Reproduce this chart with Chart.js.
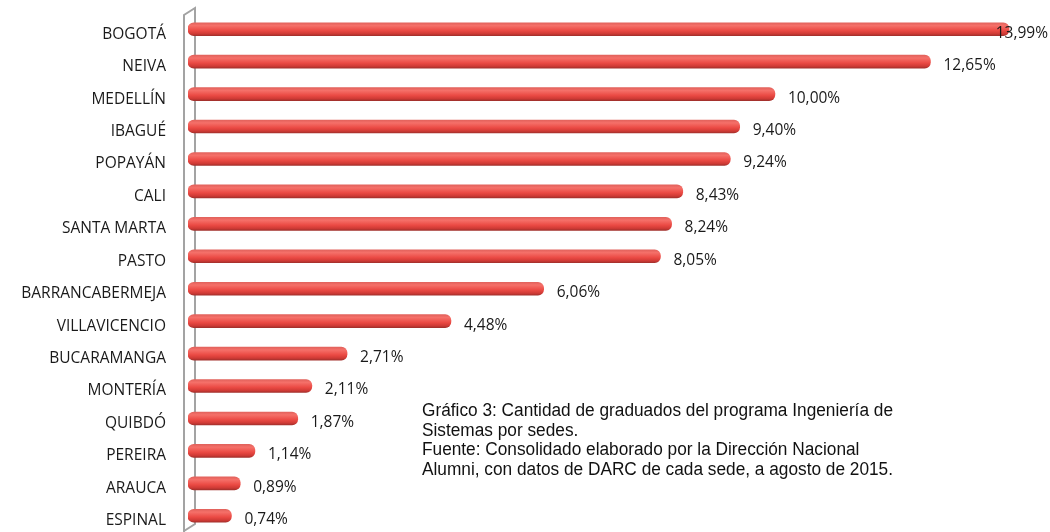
<!DOCTYPE html>
<html>
<head>
<meta charset="utf-8">
<script src="https://cdn.jsdelivr.net/npm/chart.js@4/dist/chart.umd.min.js"></script>
<style>
html,body{margin:0;padding:0;background:#fff;}
#wrap{width:1050px;height:532px;position:relative;}
</style>
</head>
<body>
<div id="wrap"><canvas id="c"></canvas></div>
<script>
const categories = ['BOGOTÁ','NEIVA','MEDELLÍN','IBAGUÉ','POPAYÁN','CALI','SANTA MARTA','PASTO','BARRANCABERMEJA','VILLAVICENCIO','BUCARAMANGA','MONTERÍA','QUIBDÓ','PEREIRA','ARAUCA','ESPINAL'];
const values = [13.99,12.65,10.00,9.40,9.24,8.43,8.24,8.05,6.06,4.48,2.71,2.11,1.87,1.14,0.89,0.74];
const captionLines = [
  'Gráfico 3: Cantidad de graduados del programa Ingeniería de',
  'Sistemas por sedes.',
  'Fuente: Consolidado elaborado por la Dirección Nacional',
  'Alumni, con datos de DARC de cada sede, a agosto de 2015.'
];

const LABEL_FONT = '15.5px "Open Sans"';

function fmt(v){ return v.toFixed(2).replace('.', ',') + '%'; }

const wallPlugin = {
  id: 'wall',
  beforeDatasetsDraw(chart){
    const {ctx, chartArea} = chart;
    const l = chartArea.left - 4, r = chartArea.left + 7;
    ctx.save();
    ctx.strokeStyle = '#a3a3a3';
    ctx.lineWidth = 2;
    ctx.beginPath();
    ctx.moveTo(l, chartArea.bottom + 2);
    ctx.lineTo(l, chartArea.top + 2);
    ctx.lineTo(r, chartArea.top - 5);
    ctx.lineTo(r, chartArea.bottom - 8);
    ctx.lineTo(l, chartArea.bottom - 1);
    ctx.stroke();
    ctx.restore();
  }
};

const labelPlugin = {
  id: 'vlabels',
  afterDatasetsDraw(chart){
    const {ctx} = chart;
    const meta = chart.getDatasetMeta(0);
    ctx.save();
    ctx.font = LABEL_FONT;
    ctx.fillStyle = '#1a1a1a';
    ctx.textBaseline = 'middle';
    meta.data.forEach((bar, i) => {
      const t = fmt(values[i]);
      const w = ctx.measureText(t).width;
      let x = bar.x + 13;
      if (x + w > chart.width - 2) x = chart.width - 2 - w;
      ctx.fillText(t, x, bar.y + 4);
    });
    ctx.restore();
  }
};

const captionPlugin = {
  id: 'caption',
  afterDraw(chart){
    const {ctx} = chart;
    ctx.save();
    ctx.font = '18px "Liberation Sans", Arial, sans-serif';
    ctx.fillStyle = '#111';
    ctx.textBaseline = 'alphabetic';
    const f = 471 / ctx.measureText(captionLines[0]).width;
    captionLines.forEach((t, i) => {
      const w = ctx.measureText(t).width * f;
      ctx.fillText(t, 422, 416 + i * 19.7, w);
    });
    ctx.restore();
  }
};

function barGradient(context){
  const chart = context.chart;
  const ys = chart.scales && chart.scales.y;
  if (!ys || context.dataIndex === undefined) return '#ea4943';
  const cy = ys.getPixelForValue(context.dataIndex);
  if (!isFinite(cy)) return '#ea4943';
  const g = chart.ctx.createLinearGradient(0, cy - 6.5, 0, cy + 6.5);
  g.addColorStop(0, '#e2625c');
  g.addColorStop(0.22, '#f57069');
  g.addColorStop(0.6, '#eb4a44');
  g.addColorStop(0.85, '#cf3a35');
  g.addColorStop(1, '#a3302c');
  return g;
}

new Chart(document.getElementById('c'), {
  type: 'bar',
  data: {
    labels: categories,
    datasets: [{
      data: values,
      backgroundColor: barGradient,
      borderWidth: 0,
      borderRadius: 6,
      borderSkipped: false,
      barThickness: 13
    }]
  },
  options: {
    indexAxis: 'y',
    responsive: true,
    maintainAspectRatio: false,
    animation: false,
    layout: { padding: { top: 13, right: 11, bottom: 0, left: 0 } },
    plugins: { legend: { display: false }, tooltip: { enabled: false } },
    scales: {
      x: {
        display: false,
        min: 0,
        max: 14.5
      },
      y: {
        afterFit(scale){ scale.width = 188; scale.paddingTop = 0; scale.paddingBottom = 0; },
        grid: { display: false, drawTicks: false },
        border: { display: false },
        ticks: {
          padding: 22,
          labelOffset: 5,
          color: '#1a1a1a',
          font: { family: 'Open Sans', size: 15.5 }
        }
      }
    }
  },
  plugins: [wallPlugin, labelPlugin, captionPlugin]
});
</script>
</body>
</html>
